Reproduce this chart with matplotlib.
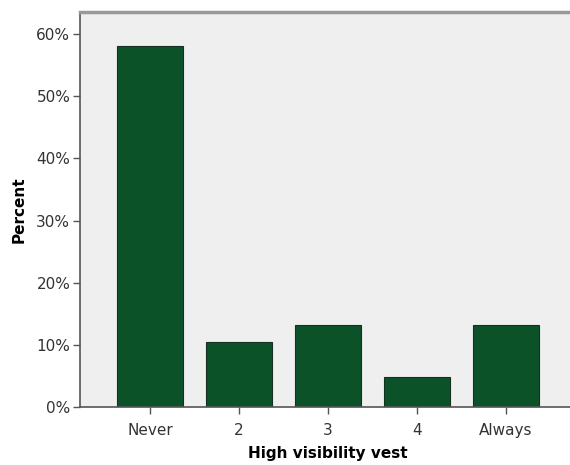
import matplotlib.pyplot as plt
from matplotlib.ticker import FuncFormatter

# --- Datos ---
categorias = ["Never", "2", "3", "4", "Always"]
porcentajes = [58.0, 10.5, 13.3, 4.9, 13.3]
ticks_y = [0, 10, 20, 30, 40, 50, 60]

plt.rcParams['font.family'] = ['DejaVu Sans']

fig = plt.figure(figsize=(5.7, 4.65), dpi=100)
ax = fig.add_axes([0.1404, 0.1237, 0.870, 0.8505])
ax.set_facecolor("#efefef")

x = range(len(categorias))
ax.bar(x, porcentajes, width=0.75, color="#0b5229", edgecolor="#16301f", linewidth=0.8, zorder=2)

ax.set_xlim(-0.787, 4.787)
ax.set_ylim(0, 63.5)
ax.set_xticks(list(x))
ax.set_xticklabels(categorias, fontsize=11, color="#333333")
ax.set_yticks(ticks_y)
ax.yaxis.set_major_formatter(FuncFormatter(lambda v, p: f"{v:.0f}%"))
ax.tick_params(axis="y", labelsize=11, length=5, width=1, color="#555555", labelcolor="#333333", pad=2)
ax.tick_params(axis="x", length=5, width=1, color="#555555", pad=6)

for s in ["left", "bottom"]:
    ax.spines[s].set_color("#555555")
    ax.spines[s].set_linewidth(1.2)
ax.spines["top"].set_color("#999999")
ax.spines["top"].set_linewidth(2.5)
ax.spines["right"].set_visible(False)

ax.set_ylabel("Percent", fontsize=11, fontweight="bold", labelpad=7)
ax.set_xlabel("High visibility vest", fontsize=11, fontweight="bold", labelpad=6)

fig.savefig("out.png", dpi=100)
